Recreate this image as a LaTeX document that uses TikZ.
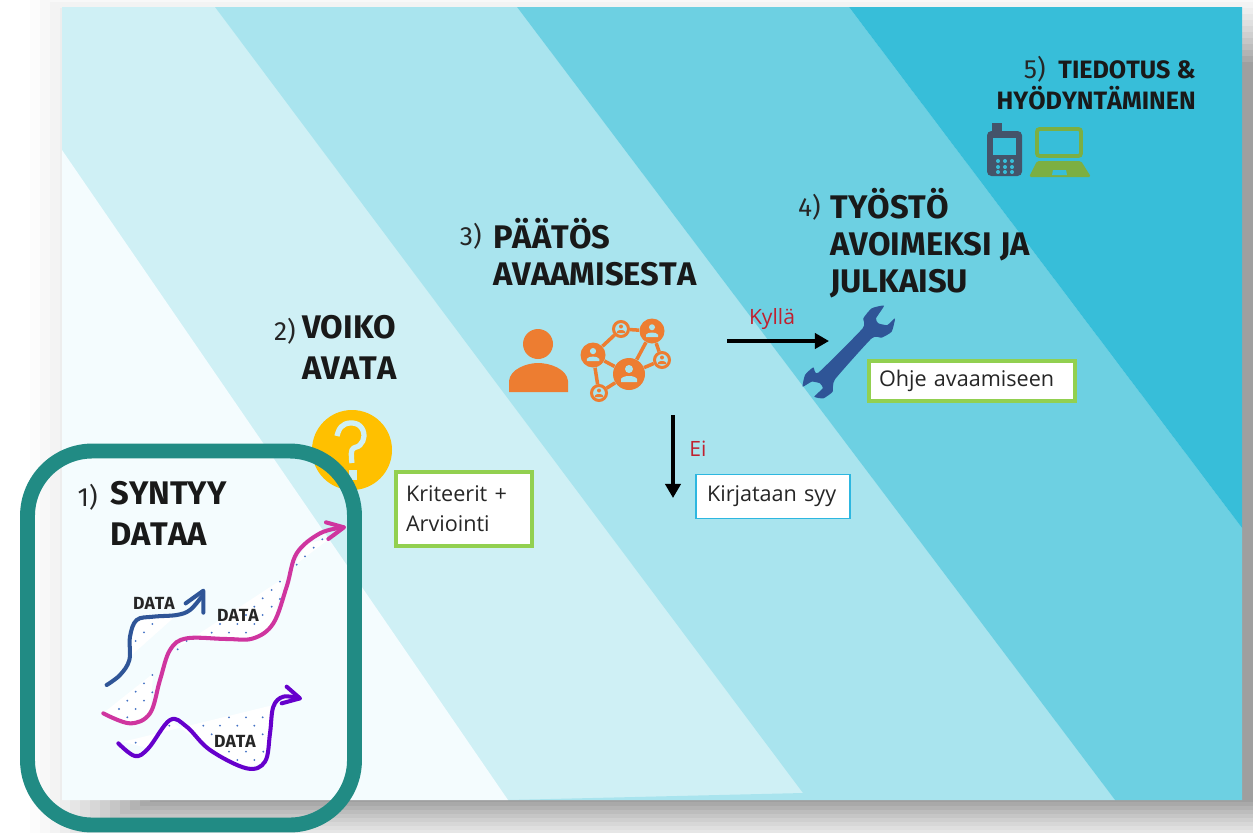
\documentclass[tikz,border=0pt]{standalone}
\usepackage{fontspec}
\usepackage{tikz}
\usetikzlibrary{arrows.meta,positioning}
\newfontfamily\headfont{Fira Sans}[Kerning=Off]
\newfontfamily\boxfont{Open Sans}
\definecolor{bandA}{HTML}{F4FCFE}
\definecolor{bandB}{HTML}{CFF0F5}
\definecolor{bandC}{HTML}{A9E4EE}
\definecolor{bandD}{HTML}{6DD0E2}
\definecolor{bandE}{HTML}{37BED9}
\definecolor{frameteal}{HTML}{218B84}
\definecolor{iconorange}{HTML}{ED7D31}
\definecolor{iconyellow}{HTML}{FFC000}
\definecolor{wrenchblue}{HTML}{2F5597}
\definecolor{phonegrey}{HTML}{44546A}
\definecolor{laptopgreen}{HTML}{7CAF42}
\definecolor{boxgreen}{HTML}{92D050}
\definecolor{boxblue}{HTML}{2DB7E0}
\definecolor{answerred}{HTML}{C0202F}
\definecolor{curvepink}{HTML}{CF359F}
\definecolor{curvepurple}{HTML}{6600CC}
\definecolor{dotblue}{HTML}{4472C4}
\tikzstyle{flow} = [line width=2.2pt,-{Triangle[length=8pt,width=8.6pt]}]
\tikzstyle{heading} = [anchor=north west,inner sep=0pt,align=left,text=black!90,font=\headfont\bfseries\fontsize{18.6}{23.2}\selectfont]
\tikzstyle{headingtight} = [heading,font=\headfont\bfseries\fontsize{18.6}{21}\selectfont]
\tikzstyle{number} = [anchor=base east,inner sep=0pt,text=black!85,font=\headfont\fontsize{15}{18}\selectfont]
\tikzstyle{notebox} = [draw=boxgreen,line width=2pt,fill=white,inner sep=0pt,align=left,text=black!85,font=\boxfont\fontsize{12.3}{17}\selectfont]
\tikzstyle{answer} = [text=answerred,inner sep=0pt,font=\boxfont\fontsize{12}{14}\selectfont]
\tikzstyle{datalabel} = [inner sep=0pt,text=black!85,font=\headfont\bfseries\fontsize{10}{10}\selectfont]
\tikzstyle{netbig} = [circle,fill=iconorange,inner sep=0pt]
\tikzstyle{netsmall} = [circle,fill=bandC,draw=iconorange,line width=1.7pt,inner sep=0pt]
\tikzstyle{curve} = [line width=2.3pt,line cap=round,line join=round]

\begin{document}
\begin{tikzpicture}[x=0.02cm,y=-0.02cm,>=stealth]
        \useasboundingbox (0,0) rectangle (1253,832);

        % shadow
        \foreach \k in {0,...,12}
            \fill[black,opacity=0.012+0.004*\k] (30+10*\k,-10+6*\k) rectangle (1320-4*\k,850-4*\k);

        % bands
        \fill[bandB] (62,7) rectangle (1242,800);
        \fill[bandA] (62,150) -- (508,800) -- (62,800) -- cycle;
        \fill[bandC] (215,7) -- (517,7) -- (1115,800) -- (508,800) -- (803,793) -- cycle;
        \fill[bandD] (517,7) -- (849,7) -- (1242,528) -- (1242,800) -- (1115,800) -- cycle;
        \fill[bandE] (849,7) -- (1242,7) -- (1242,528) -- cycle;

        % question mark
        \fill[iconyellow] (352,450) circle (40);
        \draw[bandB,line width=3pt] plot[smooth,tension=0.7] coordinates {(337,436) (341,427) (350,423) (360,426) (364,436) (360,445) (352,450) (352,463)};
        \fill[bandB] (349,470) rectangle (357,480);

        % person
        \fill[iconorange] (538,344) circle (15);
        \fill[iconorange] (509,392) -- (509,381) .. controls (510,369) and (527,363) .. (538,363)
            .. controls (550,363) and (567,369) .. (568,381) -- (568,392) -- cycle;

        % network
        \node[netbig,minimum size=0.64cm] (nb) at (629,374) {};
        \node[netbig,minimum size=0.5cm] (nt) at (652,331) {};
        \node[netbig,minimum size=0.5cm] (nl) at (593,355) {};
        \node[netsmall,minimum size=0.3cm] (ns) at (621,329) {};
        \node[netsmall,minimum size=0.3cm] (nr) at (662,360) {};
        \node[netsmall,minimum size=0.3cm] (nd) at (599,393) {};
        \foreach \a/\b in {ns/nt,ns/nl,nl/nb,nd/nb,nd/nl,nt/nb,nt/nr,nr/nb}
            \draw[iconorange,line width=2pt] (\a) -- (\b);
        \foreach \x/\y/\s/\c in {629/374/1/bandC,652/331/.75/bandC,593/355/.78/bandC,621/329/.5/iconorange,662/360/.5/iconorange,599/393/.5/iconorange} {
            \fill[\c] (\x,\y-5*\s) circle (4*\s);
            \fill[\c] (\x-8*\s,\y+8*\s) -- (\x-8*\s,\y+5*\s) .. controls (\x-6*\s,\y+1*\s) and (\x+6*\s,\y+1*\s) .. (\x+8*\s,\y+5*\s) -- (\x+8*\s,\y+8*\s) -- cycle;
        }

        % wrench
        \begin{scope}[shift={(480,290)},scale=1/3]
            \fill[wrenchblue] plot[smooth cycle,tension=0.3] coordinates {
                (1212,47) (1175,55) (1150,85) (1148,115) (1015,248) (1000,232) (975,255) (968,290)
                (995,275) (1020,280) (1028,295) (1003,320) (1030,325) (1058,305) (1065,268)
                (1175,145) (1205,143) (1235,125) (1245,85) (1222,105) (1195,100) (1188,85) };
        \end{scope}

        % phone
        \fill[phonegrey] (992,123) rectangle (1002,132);
        \fill[phonegrey,rounded corners=2.5] (987,131) rectangle (1022,176);
        \fill[bandE] (993,138) rectangle (1016,155);
        \foreach \x in {998,1005,1012}
            \foreach \y in {161,167,172}
                \fill[bandE] (\x,\y) circle (2);

        % laptop
        \draw[laptopgreen,line width=2.2pt,rounded corners=1.5] (1037,129) rectangle (1081,156);
        \fill[laptopgreen,rounded corners=1] (1037,161) -- (1081,161) -- (1091,177) -- (1029,177) -- cycle;
        \fill[bandE] (1053,170) -- (1066,170) -- (1067,175) -- (1052,175) -- cycle;

        % frame
        \draw[frameteal,line width=8.5pt,rounded corners=1.3cm] (27.5,451) rectangle (354.5,825);

        % data curves
        \begin{scope}[shift={(20,440)},scale=1/3]
            \fill[white] (330,650) -- (330,570) -- (370,530) -- (470,525) -- cycle;
            \fill[white] (255,815) -- (400,700) -- (390,820) -- (330,850) -- cycle;
            \fill[white] (470,625) -- (790,415) -- (760,550) -- (700,595) -- (500,595) -- cycle;
            \fill[white] (825,375) -- (930,295) -- (860,310) -- cycle;
            \fill[white] (310,905) -- (760,795) -- (745,960) -- (680,985) -- (570,930) -- (450,840) -- (385,925) -- cycle;
            \foreach \x/\y in {397/552,372/577,347/603,497/493,
                397/705,372/730,347/755,397/757,372/782,322/782,347/807,297/807,322/832,
                780/425,755/450,728/475,780/477,755/500,703/500,728/525,678/525,703/552,652/552,600/552,575/578,627/578,678/578,500/603,473/628,
                907/298,881/323,855/349,830/374,
                627/832,678/832,728/832,550/857,600/857,652/857,703/857,575/883,728/883,522/883,548/908,730/935,678/935,627/935,652/960,703/960,347/908,448/857}
                \fill[dotblue] (\x,\y) circle (3.2);
            \draw[curve,wrenchblue] plot[smooth,tension=0.6] coordinates {(260,735) (300,705) (328,660) (330,590) (350,540) (400,530) (470,525) (510,510) (545,470)};
            \draw[curve,wrenchblue] (497,490) -- (550,452) -- (550,518);
            \draw[curve,curvepink] plot[smooth,tension=0.6] coordinates {(250,820) (330,850) (390,820) (420,720) (450,630) (500,595) (620,597) (700,595) (760,550) (800,440) (830,340) (900,280) (970,262)};
            \draw[curve,curvepink] (918,247) -- (972,262) -- (925,297);
            \draw[curve,curvepurple] plot[smooth,tension=0.6] coordinates {(295,910) (345,948) (385,925) (450,840) (500,860) (570,930) (680,985) (735,965) (750,880) (760,800) (790,770) (838,775)};
            \draw[curve,curvepurple] (800,740) -- (840,775) -- (785,790);
        \end{scope}
        \node[datalabel] (dataA) at (154,603) {DATA};
        \node[datalabel] (dataB) at (238,615) {DATA};
        \node[datalabel] (dataC) at (235,741) {DATA};

        % headings
        \node[heading] (stepA) at (110,481) {SYNTYY\\DATAA};
        \node[number] (numA) at (98,506) {1)};
        \node[heading] (stepB) at (302,315) {VOIKO\\AVATA};
        \node[number] (numB) at (296,340) {2)};
        \node[headingtight] (stepC) at (493,218) {PÄÄTÖS\\AVAAMISESTA};
        \node[number] (numC) at (482,245) {3)};
        \node[headingtight] (stepD) at (830,188) {TYÖSTÖ\\AVOIMEKSI JA\\JULKAISU};
        \node[number] (numD) at (821,216) {4)};
        \node[heading,anchor=north east,align=right,font=\headfont\bfseries\fontsize{14.3}{17.6}\selectfont] (stepE) at (1196,60) {TIEDOTUS \&\\HYÖDYNTÄMINEN};
        \node[number] (numE) at (1046,78) {5)};

        % boxes
        \node[notebox,minimum width=2.72cm,minimum height=1.48cm,text width=2.32cm] (crit) at (464,509) {Kriteerit +\\Arviointi};
        \node[notebox,minimum width=4.12cm,minimum height=0.8cm,text width=3.72cm] (guide) at (972,381) {\raisebox{-1.2pt}{Ohje avaamiseen}};
        \node[notebox,draw=boxblue,line width=1.1pt,minimum width=3.08cm,minimum height=0.88cm,text width=2.64cm] (reason) at (773,496.5) {\raisebox{-1pt}{Kirjataan syy}};

        % arrows
        \coordinate (yesA) at (727,341);
        \coordinate (yesB) at (829,341);
        \coordinate (noA) at (673,415);
        \coordinate (noB) at (673,498);
        \draw[flow] (yesA) -- (yesB);
        \draw[flow] (noA) -- (noB);
        \node[answer] (yes) at (772,319) {Kyllä};
        \node[answer] (no) at (698,449) {Ei};
\end{tikzpicture}
\end{document}
